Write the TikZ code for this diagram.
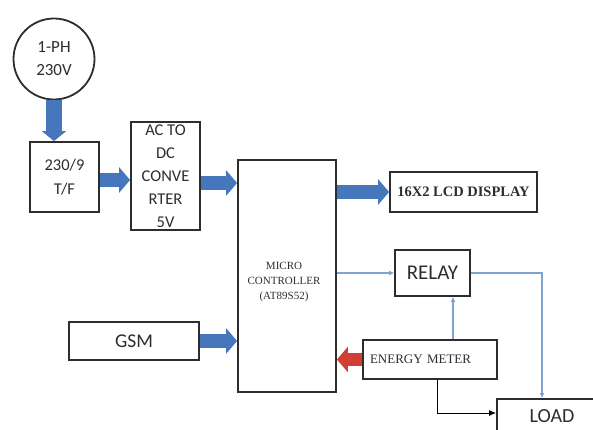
\documentclass[tikz,border=0pt]{standalone}
\usepackage{fontspec}
\setmainfont{Liberation Serif}
\newfontfamily\calib{Carlito}
\usetikzlibrary{arrows.meta}
\definecolor{arrowblue}{RGB}{70,118,188}
\definecolor{arrowred}{RGB}{208,62,52}
\definecolor{linkblue}{RGB}{128,162,206}
\definecolor{boxline}{RGB}{45,45,45}
\definecolor{txtgray}{RGB}{45,45,45}

\begin{document}
\begin{tikzpicture}[x=1pt,y=-1pt,
  blk/.style={draw=boxline,line width=1.8pt,inner sep=0pt,text=txtgray},
  fat/.style={line width=14pt,arrowblue,-{Triangle[length=11pt,width=25pt]}},
  sig/.style={line width=1.3pt,linkblue,-{Latex[length=5pt,width=5pt]}}]
  \useasboundingbox (0,0) rectangle (593,430);
  \clip (0,0) rectangle (593,430);
  \node[blk,circle,minimum size=81pt,align=center,font=\calib\fontsize{17}{23}\selectfont] (src) at (54,59) {1-PH\\230V};
  \node[blk,minimum width=69pt,minimum height=70pt,align=center,font=\calib\fontsize{16.5}{24}\selectfont] (tf) at (64.5,177) {230/9\\T/F};
  \node[blk,minimum width=69pt,minimum height=108pt,align=center,font=\calib\fontsize{16.5}{23}\selectfont] (acdc) at (165.5,176) {AC TO\\DC\\CONVE\\RTER\\5V};
  \node[blk,minimum width=98pt,minimum height=232pt] (mc) at (287,276) {};
  \node[align=center,text=txtgray,font=\fontsize{11}{15}\selectfont] (mctxt) at (284,282) {MICRO\\CONTROLLER\\(AT89S52)};
  \node[blk,minimum width=147pt,minimum height=40pt,font=\bfseries\fontsize{14.5}{17}\selectfont] (lcd) at (463.5,192) {16X2 LCD DISPLAY};
  \node[blk,minimum width=75pt,minimum height=46pt,font=\calib\fontsize{21}{25}\selectfont] (relay) at (432.5,273) {RELAY};
  \node[blk,minimum height=39pt,text width=120pt,inner xsep=7pt,align=left,font=\fontsize{13}{16}\selectfont] (em) at (430,359.5) {ENERGY METER};
  \node[blk,minimum width=130pt,minimum height=38pt,font=\calib\fontsize{19.5}{23}\selectfont] (gsm) at (134,341) {GSM};
  \node[blk,minimum width=110pt,minimum height=34pt,font=\calib\fontsize{20}{24}\selectfont] (load) at (552,416) {LOAD};
  \draw[fat,line width=16pt,-{Triangle[length=10pt,width=24pt]}] (src.south) -- (src.south |- tf.north);
  \draw[fat] ([yshift=-3pt]tf.east) -- ([yshift=-3pt]tf.east -| acdc.west);
  \draw[fat] ([yshift=-7pt]acdc.east) -- ([yshift=-7pt]acdc.east -| mc.west);
  \draw[fat] (lcd.west -| mc.east) -- (lcd.west);
  \draw[fat] (gsm.east) -- (gsm.east -| mc.west);
  \draw[fat,arrowred,line width=13pt] (em.west) -- (em.west -| mc.east);
  \draw[sig] (relay.west -| mc.east) -- (relay.west);
  \draw[sig] (relay.east) -| ([xshift=-10pt]load.north);
  \draw[sig] ([xshift=23pt]em.north) -- ([xshift=23pt]em.north |- relay.south);
  \draw[line width=1pt,-{Latex[length=7pt,width=6pt]}] ([xshift=7pt]em.south) |- ([yshift=3pt]load.west);
\end{tikzpicture}
\end{document}
